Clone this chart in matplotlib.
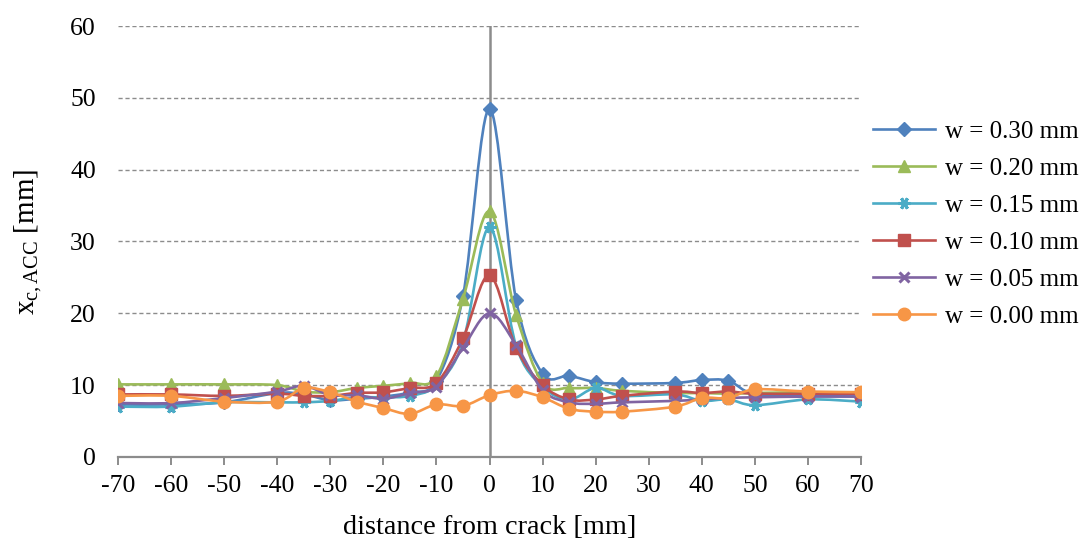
import numpy as np
import matplotlib
matplotlib.use("Agg")
import matplotlib.pyplot as plt
from matplotlib.path import Path
from matplotlib.patches import PathPatch
from matplotlib.lines import Line2D

plt.rcParams['font.family'] = ['Liberation Serif', 'DejaVu Serif']
plt.rcParams['mathtext.fontset'] = 'custom'
plt.rcParams['mathtext.rm'] = 'Liberation Serif'
plt.rcParams['mathtext.it'] = 'Liberation Serif:italic'
plt.rcParams['axes.unicode_minus'] = False

# -----------------------------
# Data
# -----------------------------
x_mm = [-70, -60, -50, -40, -35, -30, -25, -20, -15, -10, -5, 0, 5,
        10, 15, 20, 25, 35, 40, 45, 50, 60, 70]
w030 = [7.3, 7.3, 7.6, 8.9, 8.7, 7.9, 8.1, 8.4, 9.0, 10.6, 22.4, 48.5, 21.9,
        11.6, 11.3, 10.4, 10.2, 10.3, 10.7, 10.6, 8.7, 8.5, 8.4]
w020 = [10.1, 10.1, 10.1, 10.0, 9.1, 9.0, 9.6, 9.9, 10.3, 11.2, 22.0, 34.2, 19.8,
        10.3, 9.6, 9.6, 9.2, 8.9, 8.9, 8.8, 8.9, 9.0, 9.0]
w015 = [7.0, 7.0, 7.6, 7.6, 7.6, 7.8, 8.3, 8.3, 8.5, 10.0, 16.0, 32.0, 15.5,
        9.8, 8.0, 9.6, 8.5, 8.7, 7.8, 8.0, 7.2, 8.0, 7.7]
w010 = [8.7, 8.7, 8.5, 8.8, 8.5, 8.5, 8.9, 9.0, 9.6, 10.3, 16.5, 25.3, 15.2,
        10.0, 8.0, 8.0, 8.5, 9.1, 8.9, 9.1, 8.8, 8.8, 8.8]
w005 = [7.5, 7.5, 8.2, 9.1, 9.9, 8.6, 8.6, 8.1, 8.9, 9.8, 15.2, 20.0, 15.6,
        9.3, 7.6, 7.4, 7.6, 7.8, 8.0, 8.2, 8.3, 8.4, 8.4]
w000 = [8.5, 8.5, 7.7, 7.7, 9.6, 9.0, 7.7, 6.8, 6.0, 7.3, 7.1, 8.6, 9.2,
        8.3, 6.7, 6.3, 6.3, 7.0, 8.2, 8.2, 9.4, 9.1, 9.0]

labels = ["w = 0.30 mm", "w = 0.20 mm", "w = 0.15 mm",
          "w = 0.10 mm", "w = 0.05 mm", "w = 0.00 mm"]
series = [w030, w020, w015, w010, w005, w000]
colors = ["#4F81BD", "#9BBB59", "#4BACC6", "#C0504D", "#8064A2", "#F79646"]
markers = ["D", "^", (6, 2, 90), "s", "x", "o"]
msizes = [7.5, 9, 8.5, 8.5, 7.5, 9]
x_ticks = list(range(-70, 71, 10))
y_ticks = list(range(0, 61, 10))


def smooth_path(x, y):
    # Excel-like smoothed line: Catmull-Rom segments as cubic Bezier curves
    p = np.column_stack([x, y]).astype(float)
    n = len(p)
    verts = [p[0]]
    codes = [Path.MOVETO]
    for i in range(n - 1):
        p0 = p[i - 1] if i > 0 else p[i]
        p3 = p[i + 2] if i + 2 < n else p[i + 1]
        c1 = p[i] + (p[i + 1] - p0) / 6.0
        c2 = p[i + 1] - (p3 - p[i]) / 6.0
        verts += [c1, c2, p[i + 1]]
        codes += [Path.CURVE4] * 3
    return Path(verts, codes)


def edge_width(m):
    return 2.2 if m == "x" or isinstance(m, tuple) else 1.0


fig = plt.figure(figsize=(10.83, 5.42), dpi=100)
ax = fig.add_axes([0.109, 0.157, 0.686, 0.795])

for k, (vals, col, mk, ms) in enumerate(zip(series, colors, markers, msizes)):
    ax.add_patch(PathPatch(smooth_path(x_mm, vals), facecolor="none",
                           edgecolor=col, lw=1.9, zorder=3 + k))
    ax.plot(x_mm, vals, linestyle="none", marker=mk, ms=ms, color=col,
            mec=col, mew=edge_width(mk), zorder=3 + k)

ax.set_xlim(-70, 70)
ax.set_ylim(0, 60)
ax.set_xticks(x_ticks)
ax.set_yticks(y_ticks)
ax.tick_params(axis="x", labelsize=18.5, length=6, width=1.4, color="#8c8c8c",
               direction="out", pad=7)
ax.tick_params(axis="y", labelsize=18.5, length=0, pad=16)
for s in ["left", "right", "top"]:
    ax.spines[s].set_visible(False)
ax.spines["bottom"].set_color("#8c8c8c")
ax.spines["bottom"].set_linewidth(1.6)
for yv in y_ticks[1:]:
    ax.axhline(yv, color="#8c8c8c", lw=1.0, ls=(0, (3, 2)), zorder=1)
ax.axvline(0, color="#8c8c8c", lw=1.8, zorder=2)

ax.set_xlabel("distance from crack [mm]", fontsize=20.3, labelpad=13)
ax.set_ylabel(r"x$_{\mathrm{c,ACC}}$ [mm]", fontsize=21, labelpad=19)

handles = [Line2D([0], [0], color=c, lw=1.9, marker=m, ms=ms, mec=c,
                  mew=edge_width(m))
           for c, m, ms in zip(colors, markers, msizes)]
fig.legend(handles, labels, loc="center left", bbox_to_anchor=(0.785, 0.586),
           frameon=False, fontsize=18, handlelength=2.48, labelspacing=0.58,
           handletextpad=0.4)

fig.savefig("out.png", dpi=100)
